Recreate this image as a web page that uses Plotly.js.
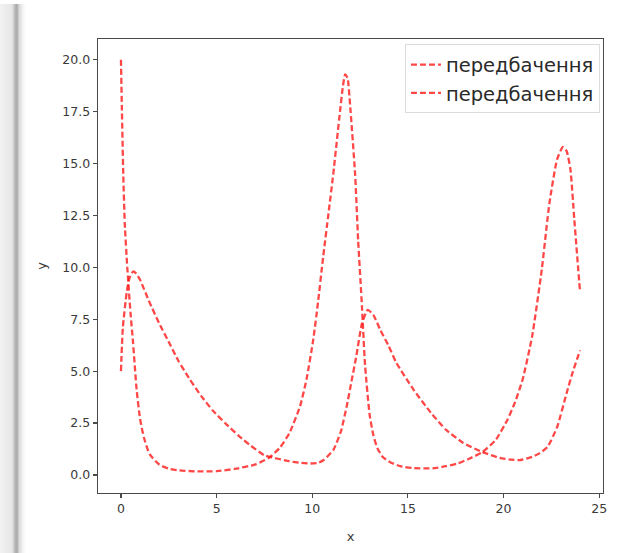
<!DOCTYPE html>
<html>
<head>
<meta charset="utf-8">
<script src="https://cdn.plot.ly/plotly-3.0.1.min.js"></script>
<style>
  html, body { margin: 0; padding: 0; background: #ffffff; }
  #wrap { position: relative; width: 619px; height: 553px; }
  #strip { position: absolute; left: 0; top: 4px; width: 26px; height: 549px;
    background: linear-gradient(to right, #f2f2f2 0px, #e6e6e6 12px, #b8b8b8 15px, #a8a8a8 17px, #d8d8d8 19px, #f4f4f4 23px, #ffffff 26px);
    z-index: 2; pointer-events: none; }
  #chart { position: absolute; left: 0; top: 0; width: 619px; height: 553px; }
</style>
</head>
<body>
<div id="wrap">
  <div id="chart"></div>
  <div id="strip"></div>
</div>
<script>
// Series A (starts at 20)
const xA = [0, 0.05, 0.12, 0.2, 0.33, 0.5, 0.63, 0.82, 1.0, 1.2, 1.5, 2.0, 2.5, 3.0, 4.0, 5.0, 6.0, 7.0, 7.7, 8.3, 8.8, 9.36, 9.7, 10.05, 10.3, 10.57, 10.85, 11.1, 11.45, 11.6, 11.72, 11.85, 11.98, 12.24, 12.4, 12.6, 12.76, 13.0, 13.2, 13.4, 13.7, 14.1, 14.6, 15.3, 16.3, 17.0, 17.6, 18.2, 18.9, 19.6, 20.2, 20.6, 21.0, 21.5, 22.0, 22.4, 22.8, 23.1, 23.3, 23.5, 23.7, 24.0];
const yA = [20.0, 17.6, 14.5, 12.1, 10.0, 7.8, 6.4, 4.1, 2.7, 1.8, 1.0, 0.5, 0.3, 0.22, 0.17, 0.18, 0.3, 0.5, 0.8, 1.3, 2.0, 3.3, 4.6, 6.5, 8.3, 10.5, 12.6, 14.5, 17.5, 18.7, 19.3, 19.1, 17.8, 14.5, 11.3, 8.1, 5.3, 2.9, 1.9, 1.3, 0.85, 0.6, 0.42, 0.33, 0.32, 0.42, 0.55, 0.78, 1.1, 1.7, 2.65, 3.5, 4.6, 6.7, 9.9, 13.1, 15.2, 15.8, 15.6, 14.7, 12.3, 8.8];

// Series B (starts at 5)
const xB = [0, 0.1, 0.3, 0.45, 0.63, 0.8, 1.0, 1.5, 2.0, 2.56, 3.0, 3.6, 4.2, 4.8, 5.5, 6.2, 6.8, 7.5, 8.2, 8.8, 9.4, 9.9, 10.3, 10.6, 11.1, 11.5, 11.8, 12.05, 12.3, 12.6, 12.9, 13.2, 13.55, 14.0, 14.4, 15.3, 16.2, 17.0, 17.9, 18.9, 19.8, 20.4, 20.9, 21.5, 21.9, 22.3, 22.8, 23.3, 23.6, 24.0];
const yB = [5.0, 7.1, 8.8, 9.5, 9.8, 9.7, 9.4, 8.3, 7.3, 6.3, 5.5, 4.6, 3.8, 3.1, 2.45, 1.85, 1.4, 0.95, 0.78, 0.66, 0.58, 0.55, 0.58, 0.72, 1.2, 2.1, 3.3, 4.5, 5.7, 7.3, 7.95, 7.7, 7.0, 6.2, 5.4, 4.1, 3.0, 2.17, 1.54, 1.1, 0.82, 0.74, 0.72, 0.87, 1.05, 1.35, 2.3, 3.95, 4.9, 6.0];

const seriesNames = ['передбачення', 'передбачення'];
const xTicks = [0, 5, 10, 15, 20, 25];
const yTicks = [0, 2.5, 5, 7.5, 10, 12.5, 15, 17.5, 20];

const lineStyle = {color: 'rgba(255,25,25,0.8)', width: 2.3, dash: '6px,3px', shape: 'spline', smoothing: 0.5};

const traces = [
  {x: xA, y: yA, name: seriesNames[0], mode: 'lines', line: lineStyle, type: 'scatter'},
  {x: xB, y: yB, name: seriesNames[1], mode: 'lines', line: lineStyle, type: 'scatter'}
];

const axisCommon = {
  showline: true, mirror: true, linecolor: '#4a4a4a', linewidth: 1.4,
  ticks: 'outside', ticklen: 4, tickwidth: 1.2, tickcolor: '#4a4a4a',
  showgrid: false, zeroline: false,
  tickfont: {family: 'DejaVu Sans', size: 12.5, color: '#3a3a3a'}
};

const layout = {
  width: 619, height: 553,
  margin: {l: 98, r: 16, t: 39, b: 60},
  paper_bgcolor: '#ffffff', plot_bgcolor: '#ffffff',
  showlegend: true,
  legend: {
    x: 0.994, y: 0.988, xanchor: 'right', yanchor: 'top',
    bgcolor: 'rgba(255,255,255,0.9)', bordercolor: '#dcdcdc', borderwidth: 1,
    font: {family: 'DejaVu Sans', size: 19.5, color: '#2a2a2a'},
    itemwidth: 30, tracegroupgap: 0
  },
  xaxis: Object.assign({}, axisCommon, {
    range: [-1.2, 25.2], tickmode: 'array', tickvals: xTicks, ticktext: xTicks.map(String),
    title: {text: 'x', font: {family: 'DejaVu Sans', size: 13, color: '#3a3a3a'}, standoff: 16}
  }),
  yaxis: Object.assign({}, axisCommon, {
    range: [-0.87, 21.0], tickmode: 'array', tickvals: yTicks, ticktext: yTicks.map(v => v.toFixed(1)),
    title: {text: 'y', font: {family: 'DejaVu Sans', size: 13, color: '#3a3a3a'}, standoff: 12}
  })
};

Plotly.newPlot('chart', traces, layout, {staticPlot: true, displayModeBar: false});
</script>
</body>
</html>
